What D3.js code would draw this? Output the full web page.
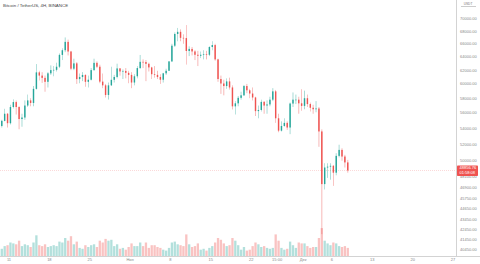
<!DOCTYPE html>
<html>
<head>
<meta charset="utf-8">
<script src="https://cdn.jsdelivr.net/npm/d3@7"></script>
<style>
  body { margin: 0; background: #fff; }
  svg { display: block; font-family: "Liberation Sans", Arial, sans-serif; }
</style>
</head>
<body>
<script>
var w = 480;
var h = 264;

// 12h candles starting at this time, open of first candle
var firstTime = "2021-10-09T12:00:00Z";
var firstOpen = 54300;

var closes = [54960, 55900, 54660, 56800, 57470, 56800, 55200, 55400, 57000, 57700,
  57350, 59300, 61670, 61200, 60870, 60300, 61530, 62000, 62040, 62500,
  64280, 65000, 66300, 64800, 62210, 63000, 60690, 61000, 61290, 60300,
  60600, 62000, 63080, 62500, 60330, 59800, 58450, 59800, 60590, 61000,
  62250, 61800, 61880, 61600, 61300, 60200, 61100, 62300, 63230, 63200,
  62930, 62400, 61400, 61300, 61000, 60600, 61530, 61900, 63300, 65700,
  67550, 67900, 66940, 66900, 64880, 65200, 64810, 64300, 64150, 64300,
  64400, 64300, 65500, 65800, 63600, 60700, 60060, 59700, 60360, 59500,
  56890, 57300, 58050, 58400, 59700, 59100, 58650, 58100, 56250, 56400,
  57500, 57000, 57150, 57800, 58950, 55300, 53700, 54300, 54700, 54100,
  57270, 57800, 57800, 57300, 56950, 58000, 57200, 56700, 56500, 56600,
  53600, 47300, 49200, 49300, 49400, 48600, 50580, 51300, 50500, 49800,
  48856.76];

var highs = [55100, 56560, 56000, 57100, 57840, 57680, 56900, 55900, 57700, 58500,
  58000, 59700, 62900, 61900, 61700, 61200, 61700, 62700, 62600, 63100,
  64500, 65300, 67000, 66650, 64900, 63700, 63200, 61500, 61700, 61400,
  61200, 62300, 63700, 63300, 62800, 61500, 60000, 60200, 62500, 61300,
  62950, 62300, 62100, 62300, 61900, 61700, 61400, 62600, 64270, 63600,
  63500, 63100, 62500, 62600, 61900, 61400, 61600, 62200, 63300, 66000,
  67800, 68530, 68300, 67500, 69000, 65600, 65500, 65000, 64900, 64800,
  65000, 64900, 65600, 66400, 66000, 63700, 61200, 60600, 60800, 60900,
  59800, 57600, 58300, 58900, 59850, 60000, 59300, 59500, 58200, 57000,
  57800, 57600, 57700, 58200, 59400, 59150, 55900, 54900, 55300, 54900,
  57400, 58800, 58500, 58200, 59250, 59050, 58500, 57400, 57100, 57600,
  56800, 53860, 49700, 49700, 49700, 49500, 50900, 51936, 51500, 50700,
  50100];

var lows = [54100, 54900, 54100, 54500, 56600, 55800, 53880, 54200, 55100, 56800,
  56900, 56900, 59200, 60500, 60150, 58900, 59500, 61300, 61100, 61800,
  62300, 63500, 64700, 64200, 62000, 62000, 60000, 60100, 60400, 59600,
  59500, 60500, 61900, 62300, 60100, 59400, 58100, 57820, 59700, 60200,
  60800, 61200, 60700, 60800, 60100, 59400, 59800, 60800, 62200, 62300,
  60400, 61800, 60700, 60900, 60700, 60000, 60200, 61300, 61900, 63200,
  65500, 66400, 66400, 66000, 62820, 64100, 64200, 63500, 62600, 63800,
  63600, 63600, 64100, 65000, 63400, 60300, 58600, 58400, 59300, 59200,
  56474, 55800, 56900, 57800, 58300, 58700, 58000, 57700, 55600, 55300,
  56200, 55900, 55900, 56900, 57600, 54700, 53500, 53600, 54200, 53800,
  53256, 56800, 57200, 55900, 56300, 56500, 56800, 56200, 55900, 56100,
  51680, 42000, 46700, 48000, 47800, 47100, 48300, 50400, 50000, 49200,
  48600];

var volumes = [16000, 22000, 24000, 30000, 28000, 26000, 34000, 22000, 26000, 24000,
  20000, 30000, 46000, 24000, 22000, 26000, 20000, 22000, 24000, 22000,
  32000, 30000, 40000, 34000, 44000, 26000, 32000, 18000, 16000, 24000,
  20000, 24000, 26000, 20000, 34000, 30000, 38000, 34000, 36000, 22000,
  26000, 16000, 18000, 14000, 20000, 28000, 22000, 22000, 30000, 22000,
  30000, 18000, 24000, 24000, 20000, 18000, 14000, 12000, 18000, 30000,
  32000, 26000, 24000, 22000, 48000, 26000, 20000, 22000, 28000, 14000,
  16000, 12000, 18000, 22000, 30000, 40000, 36000, 28000, 22000, 24000,
  40000, 34000, 24000, 14000, 20000, 12000, 14000, 22000, 30000, 26000,
  20000, 22000, 18000, 16000, 18000, 48000, 34000, 18000, 14000, 16000,
  32000, 24000, 18000, 30000, 28000, 28000, 22000, 18000, 20000, 20000,
  40000, 62000, 34000, 28000, 24000, 30000, 28000, 22000, 20000, 22000,
  18000];

var yTicks = [70000, 68000, 66000, 64000, 62000, 60000, 58000, 56000, 54000, 52000,
  50000, 48100, 46900, 45750, 44650, 43450, 42450, 41450, 40450];

var xTickDates = ["2021-10-11", "2021-10-18", "2021-10-25", "2021-11-01", "2021-11-08",
  "2021-11-15", "2021-11-22", "2021-11-26T12:00:00Z", "2021-12-01", "2021-12-06",
  "2021-12-13", "2021-12-20", "2021-12-27"];
var xTickLabels = ["11", "18", "25", "Ноя", "8", "15", "22", "15:00", "Дек", "6", "13", "20", "27"];

var countdown = "01:58:08";
var upColor = "#26a69a", downColor = "#ef5350";

var plotRight = 456, plotBottom = 256;

var svg = d3.select("body").append("svg")
    .attr("width", w)
    .attr("height", h);

var x = d3.scaleUtc()
    .domain([new Date("2021-10-11T00:00:00Z"), new Date("2021-12-27T00:00:00Z")])
    .range([9, 453]);

// log price scale, fitted to the tick positions
var y = d3.scaleLog()
    .domain([70000, 40450])
    .range([19, 250]);

var vol = d3.scaleLinear()
    .domain([0, 60000])
    .range([0, 27]);

var t0 = new Date(firstTime).getTime();
var step = 12 * 3600 * 1000;
var candles = closes.map(function (c, i) {
    return {
        t: new Date(t0 + i * step + step / 2),
        o: i ? closes[i - 1] : firstOpen,
        h: highs[i],
        l: lows[i],
        c: c,
        v: volumes[i]
    };
});

var slot = x(new Date(t0 + step)) - x(new Date(t0));
var barW = slot * 0.5;

svg.append("clipPath").attr("id", "plot")
  .append("rect").attr("x", 0).attr("y", 0).attr("width", plotRight).attr("height", plotBottom);

var g = svg.append("g").attr("clip-path", "url(#plot)");

// volume
g.selectAll(".vol")
    .data(candles)
    .enter()
    .append("rect")
    .attr("x", function (d) { return x(d.t) - slot * 0.4; })
    .attr("width", slot * 0.8)
    .attr("y", function (d) { return plotBottom - vol(d.v); })
    .attr("height", function (d) { return vol(d.v); })
    .attr("fill", function (d) { return d.c >= d.o ? upColor : downColor; })
    .attr("opacity", 0.35);

// last price line
var lastPrice = closes[closes.length - 1];
g.append("line")
    .attr("x1", 0).attr("x2", plotRight)
    .attr("y1", y(lastPrice)).attr("y2", y(lastPrice))
    .attr("stroke", downColor)
    .attr("stroke-width", 0.5)
    .attr("stroke-dasharray", "1,1")
    .attr("opacity", 0.45);

// wicks
g.selectAll(".wick")
    .data(candles)
    .enter()
    .append("line")
    .attr("x1", function (d) { return x(d.t); })
    .attr("x2", function (d) { return x(d.t); })
    .attr("y1", function (d) { return y(d.h); })
    .attr("y2", function (d) { return y(d.l); })
    .attr("stroke", function (d) { return d.c >= d.o ? upColor : downColor; })
    .attr("stroke-width", 0.5)
    .attr("opacity", 0.8);

// bodies
g.selectAll(".body")
    .data(candles)
    .enter()
    .append("rect")
    .attr("x", function (d) { return x(d.t) - barW / 2; })
    .attr("width", barW)
    .attr("y", function (d) { return y(Math.max(d.o, d.c)); })
    .attr("height", function (d) { return Math.max(0.6, Math.abs(y(d.o) - y(d.c))); })
    .attr("fill", function (d) { return d.c >= d.o ? upColor : downColor; });

// axes lines
svg.append("line")
    .attr("x1", plotRight + 0.5).attr("x2", plotRight + 0.5)
    .attr("y1", 0).attr("y2", plotBottom)
    .attr("stroke", "#c8c8c8").attr("stroke-width", 0.8);
svg.append("line")
    .attr("x1", 0).attr("x2", w)
    .attr("y1", plotBottom + 0.5).attr("y2", plotBottom + 0.5)
    .attr("stroke", "#c8c8c8").attr("stroke-width", 0.8);

// price labels
svg.selectAll(".ytick")
    .data(yTicks)
    .enter()
    .append("text")
    .attr("x", 460)
    .attr("y", function (d) { return y(d); })
    .attr("dy", "0.35em")
    .attr("font-size", 4)
    .attr("fill", "#888")
    .text(function (d) { return d3.format(".2f")(d); });

// time labels
svg.selectAll(".xtick")
    .data(xTickDates)
    .enter()
    .append("text")
    .attr("x", function (d) { return x(new Date(d.length > 10 ? d : d + "T00:00:00Z")); })
    .attr("y", 261)
    .attr("text-anchor", "middle")
    .attr("font-size", 4)
    .attr("fill", "#888")
    .text(function (d, i) { return xTickLabels[i]; });

// last price tag
var py = y(lastPrice);
svg.append("rect")
    .attr("x", plotRight + 1).attr("y", py - 5)
    .attr("width", 21).attr("height", 10.5)
    .attr("rx", 0.8)
    .attr("fill", downColor);
svg.append("text")
    .attr("x", plotRight + 3.5).attr("y", py - 1)
    .attr("font-size", 4).attr("fill", "#fff")
    .text(d3.format(".2f")(lastPrice));
svg.append("text")
    .attr("x", plotRight + 3.5).attr("y", py + 3.6)
    .attr("font-size", 4).attr("fill", "#fff")
    .text(countdown);

// currency
svg.append("text")
    .attr("x", 468).attr("y", 4.5)
    .attr("text-anchor", "middle")
    .attr("font-size", 3.2).attr("fill", "#777")
    .text("USDT");
svg.append("line")
    .attr("x1", 461).attr("x2", 476)
    .attr("y1", 6.5).attr("y2", 6.5)
    .attr("stroke", "#999").attr("stroke-width", 0.5);

// title
svg.append("text")
    .attr("x", 3).attr("y", 6.5)
    .attr("font-size", 4.4)
    .attr("fill", "#444")
    .text("Bitcoin / TetherUS, 4H, BINANCE");
</script>
</body>
</html>
